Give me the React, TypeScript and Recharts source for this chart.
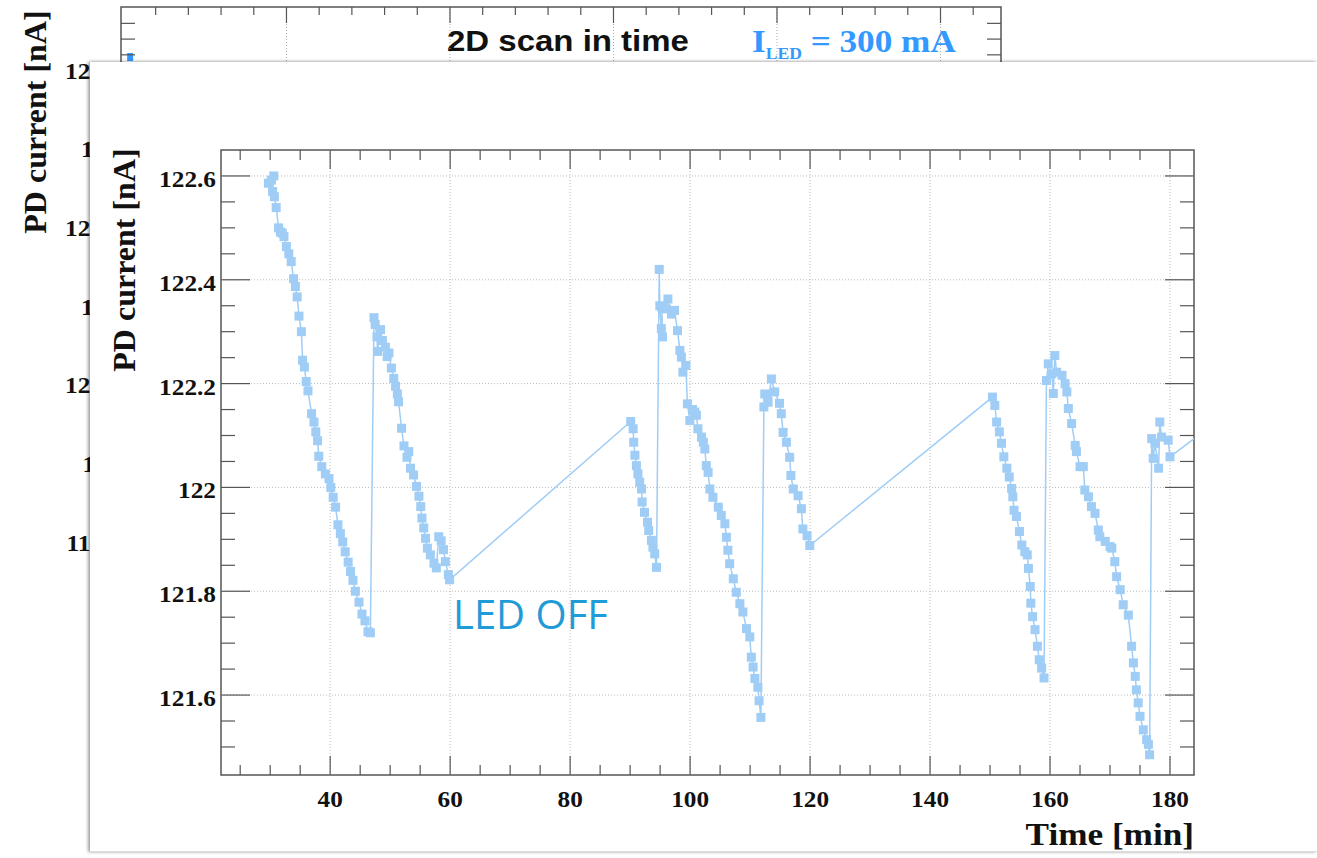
import { LineChart, Line, XAxis, YAxis, ReferenceLine, ReferenceArea } from 'recharts';

const SERIF = '"Liberation Serif", "Times New Roman", serif';
const SANS = '"Liberation Sans", Arial, sans-serif';
const MARKER = '#9fcdf6';
const AXIS = '#555';

// ---- main pad: PD current vs time ----
const cycle1: [number, number][] = [
  [29.7, 122.586], [30.2, 122.592], [30.6, 122.6], [30.4, 122.57], [30.7, 122.56], [31.0, 122.539],
  [31.4, 122.5], [31.7, 122.492], [32.0, 122.49], [32.3, 122.483], [32.7, 122.464], [33.1, 122.45],
  [33.5, 122.435], [33.9, 122.402], [34.2, 122.387], [34.5, 122.367], [34.8, 122.33], [35.2, 122.3],
  [35.4, 122.245], [35.7, 122.232], [36.0, 122.204], [36.3, 122.186], [36.9, 122.142], [37.3, 122.126],
  [37.6, 122.107], [37.9, 122.09], [38.1, 122.06], [38.6, 122.04], [39.2, 122.026], [39.8, 122.017],
  [40.1, 122.0], [40.5, 121.981], [40.9, 121.962], [41.3, 121.928], [41.7, 121.911], [42.1, 121.895],
  [42.5, 121.876], [43.0, 121.856], [43.4, 121.838], [43.8, 121.821], [44.2, 121.8], [44.8, 121.779],
  [45.3, 121.756], [45.8, 121.743], [46.3, 121.722], [46.7, 121.72],
];
const cycle2: [number, number][] = [
  [47.3, 122.327], [47.5, 122.314], [47.8, 122.29], [47.9, 122.262], [48.4, 122.304], [48.7, 122.283],
  [49.2, 122.27], [49.5, 122.252], [49.8, 122.259], [50.2, 122.23], [50.6, 122.21], [50.9, 122.195],
  [51.2, 122.18], [51.4, 122.165], [51.9, 122.114], [52.3, 122.08], [52.8, 122.058], [53.1, 122.069],
  [53.4, 122.037], [53.9, 122.024], [54.4, 122.002], [54.8, 121.983], [55.1, 121.963], [55.3, 121.941],
  [55.6, 121.922], [55.9, 121.902], [56.2, 121.883], [56.7, 121.87], [57.3, 121.854], [57.7, 121.845],
  [58.1, 121.905], [58.5, 121.897], [58.9, 121.88], [59.2, 121.857], [59.7, 121.832], [59.9, 121.822],
];
const cycle3: [number, number][] = [
  [90.1, 122.127], [90.5, 122.113], [90.6, 122.087], [90.8, 122.062], [91.05, 122.042], [91.3, 122.026],
  [91.6, 122.01], [91.9, 121.997], [92.0, 121.972], [92.4, 121.952], [92.9, 121.933], [93.1, 121.917],
  [93.55, 121.898], [93.8, 121.885], [94.1, 121.872], [94.4, 121.846],
  [94.85, 122.42], [94.95, 122.35], [95.2, 122.306], [95.4, 122.29], [95.3, 122.347], [96.0, 122.344],
  [96.3, 122.363], [96.9, 122.334], [97.4, 122.341], [97.9, 122.302], [98.3, 122.264], [98.55, 122.251],
  [98.8, 122.222], [99.3, 122.235], [99.55, 122.161], [99.95, 122.129], [100.4, 122.15], [100.8, 122.145],
  [101.05, 122.139], [101.3, 122.113], [101.9, 122.097], [102.2, 122.087], [102.45, 122.074], [102.7, 122.042],
  [103.0, 122.029], [103.3, 121.997], [103.8, 121.981], [104.7, 121.962], [105.2, 121.946], [105.8, 121.93],
  [106.05, 121.904], [106.3, 121.879], [106.6, 121.853], [107.2, 121.824], [107.7, 121.798], [108.3, 121.776],
  [108.8, 121.76], [109.4, 121.728], [109.95, 121.712], [110.2, 121.673], [110.5, 121.654], [110.8, 121.632],
  [111.3, 121.615], [111.5, 121.589], [111.8, 121.557],
];
const cycle4: [number, number][] = [
  [112.3, 122.155], [112.45, 122.18], [112.9, 122.175], [113.0, 122.164], [113.55, 122.209], [114.1, 122.184],
  [114.9, 122.162], [115.2, 122.142], [115.5, 122.106], [116.05, 122.087], [116.6, 122.058], [116.8, 122.023],
  [117.2, 121.997], [118.0, 121.984], [118.55, 121.959], [118.8, 121.92], [119.5, 121.907], [119.95, 121.888],
];
const cycle5: [number, number][] = [
  [150.4, 122.174], [150.8, 122.158], [151.1, 122.126], [151.55, 122.107], [151.9, 122.085], [152.3, 122.059],
  [152.8, 122.037], [153.2, 122.02], [153.6, 121.998], [153.8, 121.982], [154.0, 121.956], [154.4, 121.944],
  [154.9, 121.915], [155.3, 121.889], [155.8, 121.876], [156.2, 121.87], [156.4, 121.844], [156.7, 121.809],
  [156.8, 121.777], [157.1, 121.751], [157.5, 121.726], [157.9, 121.694], [158.2, 121.668], [158.6, 121.652],
  [159.0, 121.633],
  [159.4, 122.206], [159.7, 122.238], [160.3, 122.219], [160.55, 122.181], [160.8, 122.254], [161.1, 122.222],
  [162.0, 122.216], [162.5, 122.2], [162.8, 122.184], [163.05, 122.152], [163.6, 122.123], [164.2, 122.081],
  [164.4, 122.069], [165.0, 122.04], [165.55, 122.04], [165.8, 121.995], [166.4, 121.982], [166.9, 121.963],
  [167.5, 121.95], [168.05, 121.918], [168.3, 121.905], [169.2, 121.896], [170.0, 121.886], [170.3, 121.883],
  [170.8, 121.857], [171.1, 121.828], [171.7, 121.803], [172.2, 121.774], [173.05, 121.754], [173.6, 121.694],
  [173.9, 121.662], [174.2, 121.636], [174.4, 121.61], [174.7, 121.585], [175.0, 121.559], [175.55, 121.533],
  [176.1, 121.514], [176.4, 121.505], [176.6, 121.485],
];
const cycle6: [number, number][] = [
  [176.95, 122.094], [177.2, 122.056], [177.5, 122.085], [178.1, 122.037], [178.3, 122.126], [178.6, 122.097],
  [179.7, 122.091], [180.0, 122.059], [210.0, 122.32],
];

const xMajorTicks = [40, 60, 80, 100, 120, 140, 160, 180];
const xMinorTicks = [25, 30, 35, 45, 50, 55, 65, 70, 75, 85, 90, 95, 105, 110, 115, 125, 130, 135, 145, 150, 155, 165, 170, 175];
const yMajorTicks = [121.6, 121.8, 122, 122.2, 122.4, 122.6];
const yMinorTicks = [121.5, 121.55, 121.65, 121.7, 121.75, 121.85, 121.9, 121.95, 122.05, 122.1, 122.15, 122.25, 122.3, 122.35, 122.45, 122.5, 122.55];

const X_MIN = 21.8;
const X_MAX = 184;
const Y_MIN = 121.446;
const Y_MAX = 122.65;

// ---- background pad (mostly hidden behind the front one) ----
const bgTime = [2.2];
const bgCurrent = [122.086];
const bgXMajorTicks = [50, 100, 150, 200, 250];
const bgXMinorTicks = [10, 20, 30, 40, 60, 70, 80, 90, 110, 120, 130, 140, 160, 170, 180, 190, 210, 220, 230, 240, 260];
const bgYMajorTicks = [119, 119.5, 120, 120.5, 121, 121.5, 122];
const bgYMinorTicks = [120.6, 120.7, 120.8, 120.9, 121.1, 121.2, 121.3, 121.4, 121.6, 121.7, 121.8, 121.9, 122.1, 122.2, 122.3];

const mainData = [...cycle1, ...cycle2, ...cycle3, ...cycle4, ...cycle5, ...cycle6].map(([t, i]) => ({ t, i }));
const bgData = bgTime.map((t, k) => ({ t, i: bgCurrent[k] }));

// axes get 1px of room (a 0px axis is not drawn at all)
const MAIN_W = 1227;
const MAIN_H = 789;
const mainMargin = { top: 88, right: 123, bottom: 75, left: 130 };
const PL = mainMargin.left + 1;
const PR = MAIN_W - mainMargin.right;
const PT = mainMargin.top;
const PB = MAIN_H - mainMargin.bottom - 1;

const BG_W = 1317;
const BG_H = 858;
const bgMargin = { top: 7, right: 316, bottom: 157, left: 120 };
const BL = bgMargin.left + 1;
const BR = BG_W - bgMargin.right;
const BT = bgMargin.top;

function SquareDot(props: any) {
  const { cx, cy, index } = props;
  if (cx == null || cy == null) return <g key={index} />;
  return <rect key={index} x={cx - 4.5} y={cy - 4.5} width={9} height={9} fill={MARKER} />;
}

function BgDot(props: any) {
  const { cx, cy, index } = props;
  if (cx == null || cy == null) return <g key={index} />;
  return <rect key={index} x={cx - 3} y={cy - 4} width={6} height={8} fill="#3399ff" />;
}

function MainXTick(props: any) {
  const { x, payload } = props;
  const major = xMajorTicks.includes(payload.value);
  const len = major ? 19 : 10;
  return (
    <g>
      <line x1={x} x2={x} y1={PB} y2={PB - len} stroke={AXIS} strokeWidth={1.2} />
      <line x1={x} x2={x} y1={PT} y2={PT + len} stroke={AXIS} strokeWidth={1.2} />
      {major && (
        <text transform={`translate(${x},${PB + 32}) scale(1.1,1)`} textAnchor="middle" fontFamily={SERIF} fontWeight="bold" fontSize={23} fill="#111">
          {payload.value}
        </text>
      )}
    </g>
  );
}

function MainYTick(props: any) {
  const { y, payload } = props;
  const major = yMajorTicks.includes(payload.value);
  const len = major ? 29 : 14;
  const v = payload.value;
  const label = Number.isInteger(v) ? String(v) : v.toFixed(1);
  return (
    <g>
      <line x1={PL} x2={PL + len} y1={y} y2={y} stroke={AXIS} strokeWidth={1.2} />
      <line x1={PR - len} x2={PR} y1={y} y2={y} stroke={AXIS} strokeWidth={1.2} />
      {major && (
        <text transform={`translate(${PL - 5},${y + 11}) scale(1.1,1)`} textAnchor="end" fontFamily={SERIF} fontWeight="bold" fontSize={23} fill="#111">
          {label}
        </text>
      )}
    </g>
  );
}

function BgXTick(props: any) {
  const { x, payload } = props;
  const major = bgXMajorTicks.includes(payload.value);
  return <line x1={x} x2={x} y1={BT} y2={BT + (major ? 16 : 8)} stroke={AXIS} strokeWidth={1.2} />;
}

function BgYTick(props: any) {
  const { y, payload } = props;
  const v = payload.value;
  const major = bgYMajorTicks.includes(v);
  const len = major ? 28 : 14;
  const whole = Number.isInteger(v);
  const label = whole ? String(v) : v.toFixed(1);
  // this pad's labels sit partly under the front pad
  const labelRight = whole ? 103 : 138;
  return (
    <g>
      <line x1={BL} x2={BL + len} y1={y} y2={y} stroke={AXIS} strokeWidth={1.2} />
      <line x1={BR - len} x2={BR} y1={y} y2={y} stroke={AXIS} strokeWidth={1.2} />
      {major && (
        <text transform={`translate(${labelRight},${y + 8}) scale(1.1,1)`} textAnchor="end" fontFamily={SERIF} fontWeight="bold" fontSize={23} fill="#111">
          {label}
        </text>
      )}
    </g>
  );
}

function BackgroundPad() {
  return (
    <LineChart width={BG_W} height={BG_H} data={bgData} margin={bgMargin}>
      {bgXMajorTicks.map((v) => (
        <ReferenceLine key={`bgx${v}`} x={v} stroke="#aaa" strokeDasharray="1 2" />
      ))}
      <ReferenceArea x1={-0.6} x2={268.5} y1={118} y2={122.404} fill="none" stroke={AXIS} strokeWidth={1.5} ifOverflow="visible" />
      <XAxis type="number" dataKey="t" domain={[-0.6, 268.5]} allowDataOverflow ticks={[...bgXMajorTicks, ...bgXMinorTicks]} interval={0} height={1} axisLine={false} tickLine={false} tick={<BgXTick />} />
      <YAxis type="number" domain={[118, 122.404]} allowDataOverflow ticks={[...bgYMajorTicks, ...bgYMinorTicks]} interval={0} width={1} axisLine={false} tickLine={false} tick={<BgYTick />} />
      <Line dataKey="i" stroke="#3399ff" dot={<BgDot />} isAnimationActive={false} />
      <text transform="translate(35,122) rotate(-90)" textAnchor="middle" dominantBaseline="central" fontFamily={SERIF} fontWeight="bold" fontSize={32} fill="#111">
        PD current [nA]
      </text>
      <text transform="translate(447,51) scale(1.1,1)" fontFamily={SANS} fontWeight="bold" fontSize={30} fill="#111">
        2D scan in time
      </text>
      <text transform="translate(752,52) scale(1.1,1)" fontFamily={SERIF} fontWeight="bold" fontSize={32} fill="#3399ff">
        I<tspan dy={7} fontSize={16}>LED</tspan>
        <tspan dy={-7}> = 300 mA</tspan>
      </text>
    </LineChart>
  );
}

function MainPad() {
  return (
    <LineChart width={MAIN_W} height={MAIN_H} data={mainData} margin={mainMargin}>
      {xMajorTicks.map((v) => (
        <ReferenceLine key={`gx${v}`} x={v} stroke="#bbb" strokeDasharray="1 2" />
      ))}
      {yMajorTicks.map((v) => (
        <ReferenceLine key={`gy${v}`} y={v} stroke="#bbb" strokeDasharray="1 2" />
      ))}
      <ReferenceArea x1={X_MIN} x2={X_MAX} y1={Y_MIN} y2={Y_MAX} fill="none" stroke={AXIS} strokeWidth={1.5} ifOverflow="visible" />
      <XAxis type="number" dataKey="t" domain={[X_MIN, X_MAX]} allowDataOverflow ticks={[...xMajorTicks, ...xMinorTicks]} interval={0} height={1} axisLine={false} tickLine={false} tick={<MainXTick />} />
      <YAxis type="number" domain={[Y_MIN, Y_MAX]} allowDataOverflow ticks={[...yMajorTicks, ...yMinorTicks]} interval={0} width={1} axisLine={false} tickLine={false} tick={<MainYTick />} />
      <Line dataKey="i" stroke={MARKER} strokeWidth={1.5} dot={<SquareDot />} isAnimationActive={false} />
      <text transform="translate(34,198) rotate(-90)" textAnchor="middle" dominantBaseline="central" fontFamily={SERIF} fontWeight="bold" fontSize={32} fill="#111">
        PD current [nA]
      </text>
      <text transform={`translate(${PR},783) scale(1.1,1)`} textAnchor="end" fontFamily={SERIF} fontWeight="bold" fontSize={32} fill="#111">
        Time [min]
      </text>
      <text x={363} y={567} fontFamily='"Open Sans", sans-serif' fontSize={40} fill="#1f9bd7">
        LED OFF
      </text>
    </LineChart>
  );
}

export default function App() {
  return (
    <div style={{ position: 'absolute', left: 0, top: 0, width: 1317, height: 858, overflow: 'hidden', background: '#fff' }}>
      <div style={{ position: 'absolute', left: 0, top: 0 }}>
        <BackgroundPad />
      </div>
      <div
        style={{
          position: 'absolute',
          left: 90,
          top: 62,
          width: MAIN_W,
          height: MAIN_H,
          background: '#fff',
          overflow: 'hidden',
          borderBottom: '1px solid #ddd',
          boxShadow: '-2px 0 3px rgba(0,0,0,0.35), 0 -1px 3px rgba(0,0,0,0.12)',
        }}
      >
        <MainPad />
      </div>
    </div>
  );
}
